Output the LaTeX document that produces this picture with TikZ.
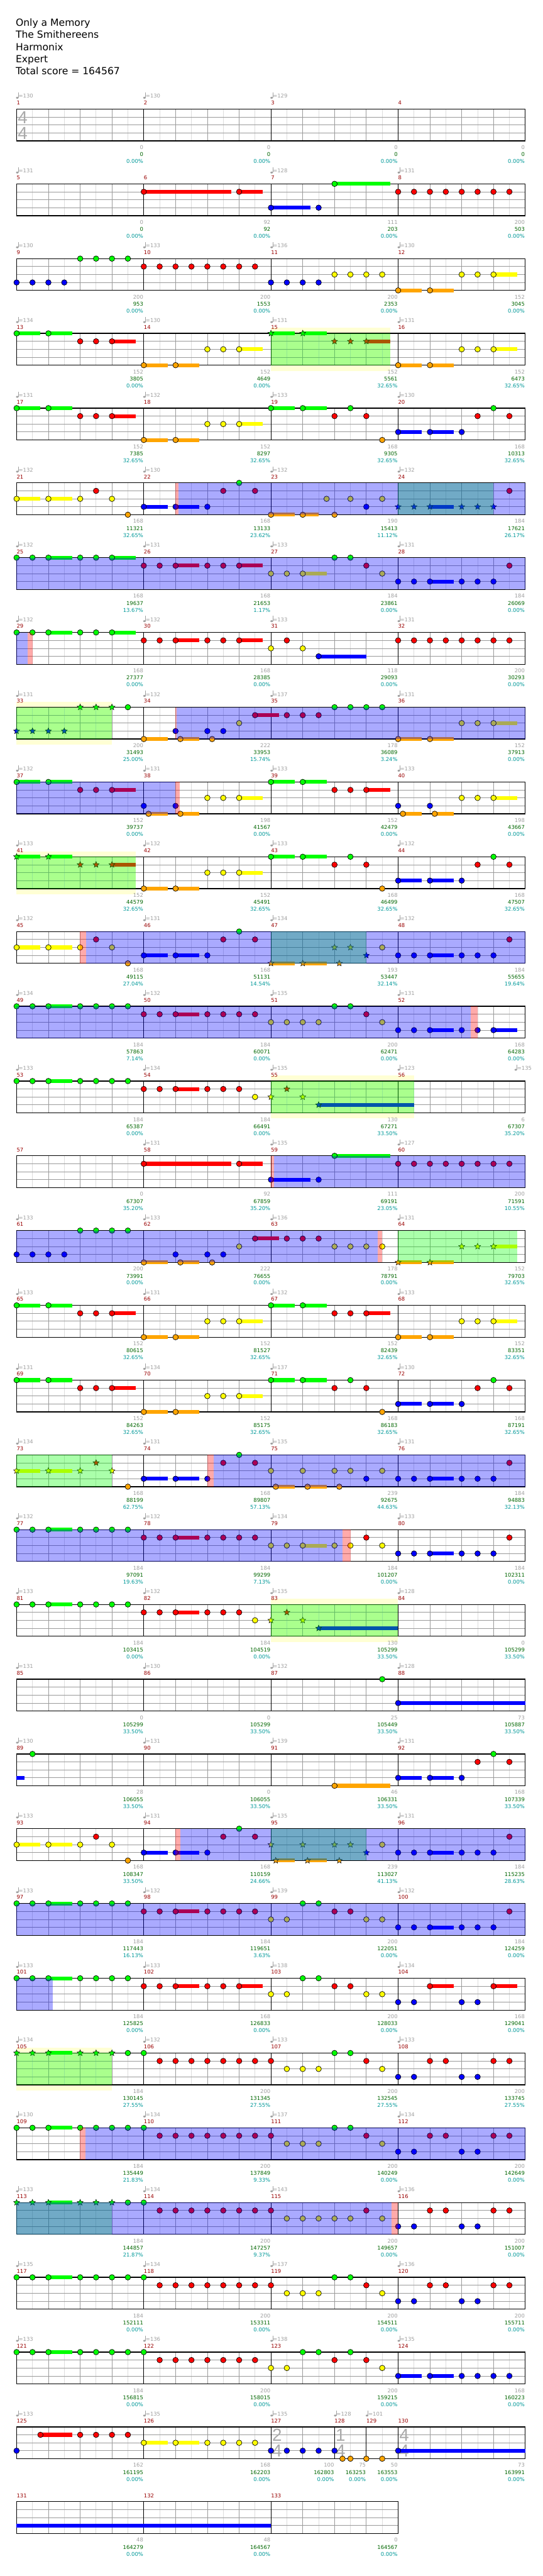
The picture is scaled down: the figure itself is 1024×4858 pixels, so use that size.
\documentclass[tikz,border=0pt]{standalone}
\usepackage{fontspec}
\setmainfont{DejaVu Sans}
\newfontfamily\tsfont{Liberation Sans}
\definecolor{cG}{HTML}{00FF00}
\definecolor{cR}{HTML}{FF0000}
\definecolor{cY}{HTML}{FFFF00}
\definecolor{cB}{HTML}{0000FF}
\definecolor{cO}{HTML}{FFA500}
\definecolor{lgray}{HTML}{DCDCDC}
\definecolor{mgray}{HTML}{9A9A9A}
\definecolor{tgray}{HTML}{A0A0A0}
\definecolor{tsgray}{HTML}{AAAAAA}
\definecolor{mnum}{HTML}{990000}
\definecolor{sgreen}{HTML}{006600}
\definecolor{steal}{HTML}{009999}
\definecolor{spyel}{HTML}{FFFFD4}
\newcounter{nn}
\newcommand\sfnt{\fontsize{10}{12}\selectfont}
\tikzset{lbl/.style={inner sep=0,font=\sfnt}}
\newcommand\Rw[1]{\pgfmathsetmacro\rowT{205.7+141*(#1-1)}}
\newcommand\grid[2]{%
  \pgfmathtruncatemacro\lastodd{#1-1}%
  \pgfmathtruncatemacro\lastev{#1-2}%
  \foreach \e in {1,3,...,\lastodd}{\draw[lgray,line width=1] ({31.3+30*\e},\rowT) -- ++(0,60);}%
  \foreach \e in {2,4,...,\lastev}{\draw[mgray,line width=1] ({31.3+30*\e},\rowT) -- ++(0,60);}%
  \foreach \lv in {15,30,45}{\draw[mgray,line width=1] (31.3,{\rowT+\lv}) -- ++({30*#1},0);}%
  \foreach \e in {#2}{\draw[black,line width=1] ({31.3+30*\e},\rowT) -- ++(0,60);}%
  \draw[black,line width=1.5] (31.3,\rowT) rectangle ({31.3+30*#1},{\rowT+60});}
\newcommand\gridd{\grid{32}{8,16,24}}
\newcommand\nt[3]{\foreach \e in {#3}{\filldraw[fill=#1,draw=black,line width=.8] ({31.3+30*\e},{\rowT+15*#2}) circle (5.2);}}
\newcommand\nG[1]{\nt{cG}{0}{#1}}
\newcommand\nR[1]{\nt{cR}{1}{#1}}
\newcommand\nY[1]{\nt{cY}{2}{#1}}
\newcommand\nB[1]{\nt{cB}{3}{#1}}
\newcommand\nO[1]{\nt{cO}{4}{#1}}
\newcommand\st[3]{\foreach \e in {#3}{\filldraw[fill=#1,draw=black,line width=.6] plot[variable=\kk,samples at={0,...,9}] ({31.3+30*\e+(6-3.3*mod(\kk,2))*cos(90+36*\kk)},{\rowT+15*#2-(6-3.3*mod(\kk,2))*sin(90+36*\kk)}) -- cycle;}}
\newcommand\tG[1]{\st{cG}{0}{#1}}
\newcommand\tR[1]{\st{cR}{1}{#1}}
\newcommand\tY[1]{\st{cY}{2}{#1}}
\newcommand\tB[1]{\st{cB}{3}{#1}}
\newcommand\tO[1]{\st{cO}{4}{#1}}
\newcommand\su[4]{\fill[#1] ({31.3+30*(#3)},{\rowT+15*#2-3.6}) rectangle ({31.3+30*(#4)},{\rowT+15*#2+3.6});}
\newcommand\sG[2]{\su{cG}{0}{#1}{#2}}
\newcommand\sR[2]{\su{cR}{1}{#1}{#2}}
\newcommand\sY[2]{\su{cY}{2}{#1}{#2}}
\newcommand\sB[2]{\su{cB}{3}{#1}{#2}}
\newcommand\sO[2]{\su{cO}{4}{#1}{#2}}
\newcommand\od[2]{\fill[cB,opacity=.333] ({31.3+30*(#1)},\rowT) rectangle ({31.3+30*(#2)},{\rowT+60});}
\newcommand\spg[2]{\fill[cG,opacity=.333] ({31.3+30*(#1)},\rowT) rectangle ({31.3+30*(#2)},{\rowT+60});}
\newcommand\pk[2]{\fill[cR,opacity=.333] ({31.3+30*(#1)},\rowT) rectangle ({31.3+30*(#2)},{\rowT+60});}
\newcommand\spy[2]{\fill[spyel] ({31.3+30*(#1)},{\rowT-10.4}) rectangle ({31.3+30*(#2)},{\rowT+70.6});}
\newcommand\mn[2]{\stepcounter{nn}\node[lbl,name=n\arabic{nn},anchor=base west,text=mnum] at ({31.3+30*(#1)},{\rowT-8}) {#2};}
\newcommand\tp[2]{\fill[tgray] ({31.3+30*(#1)+1.3},{\rowT-21.3}) ellipse (2.4 and 1.8);
  \draw[tgray,line width=.7] ({31.3+30*(#1)+3.4},{\rowT-21.5}) -- ++(0,-9.5);
  \stepcounter{nn}\node[lbl,name=n\arabic{nn},anchor=base west,text=tgray] at ({31.3+30*(#1)+3.6},{\rowT-20.7}) {=#2};}
\newcommand\scr[4]{\stepcounter{nn}\node[lbl,name=n\arabic{nn},anchor=base east,text=tgray] at ({31.3+30*(#1)-0.8},{\rowT+76}) {#2};
  \stepcounter{nn}\node[lbl,name=n\arabic{nn},anchor=base east,text=sgreen] at ({31.3+30*(#1)-0.8},{\rowT+89.3}) {#3};
  \stepcounter{nn}\node[lbl,name=n\arabic{nn},anchor=base east,text=steal] at ({31.3+30*(#1)-0.8},{\rowT+102.3}) {#4\%};}
\newcommand\scrs[1]{\foreach \sca/\scb/\scc [count=\sci] in {#1}{\scr{8*\sci}{\sca}{\scb}{\scc}}}
\newcommand\tps[1]{\foreach \ta [count=\ti] in {#1}{\ifnum\ta>0 \tp{8*(\ti-1)}{\ta}\fi}}
\newcommand\mns[2]{\foreach \mi in {1,...,#2}{\pgfmathtruncatemacro\mm{#1+\mi-1}\mn{8*(\mi-1)}{\mm}}}
\newcommand\ts[3]{\stepcounter{nn}\node[inner sep=0,name=n\arabic{nn},text=tsgray,font=\tsfont\fontsize{33}{33}\selectfont] at ({31.3+30*(#1)+11.5},{\rowT+15.5}) {#2};
  \stepcounter{nn}\node[inner sep=0,name=n\arabic{nn},text=tsgray,font=\tsfont\fontsize{33}{33}\selectfont] at ({31.3+30*(#1)+11.5},{\rowT+45.5}) {#3};}
\newcommand\PA{\sG{0}{1.5}\sG{2}{3.5}\sR{6}{7.5}\sO{8}{9.5}\sO{10}{11.5}\sY{14}{15.5}\nG{0,2}\nR{4,5,6}\nO{8,10}\nY{12,13,14}}
\newcommand\PB{\sG{16}{17.5}\sG{18}{19.5}\sR{22}{23.5}\sO{24}{25.5}\sO{26}{27.5}\sY{30}{31.5}\nG{16,18}\nR{20,21,22}\nO{24,26}\nY{28,29,30}}
\newcommand\PQ{\sG{16}{17.5}\sG{18}{19.5}\sB{24}{25.5}\sB{26}{27.5}\nG{16,18,21,30}\nR{20,22,29,31}\nO{23}\nB{24,26,28}}
\begin{document}
\begin{tikzpicture}[x=1pt,y=-1pt]
\useasboundingbox (0,0) rectangle (1024,4858);
\fill[white] (0,0) rectangle (1024,4858);
\begin{scope}[every node/.style={anchor=base west,inner sep=0,font=\fontsize{18.5}{22}\selectfont}]
\node[name=title] at (29.5,49) {Only a Memory};
\node[name=artist] at (29.5,72) {The Smithereens};
\node[name=author] at (29.5,95) {Harmonix};
\node[name=level] at (29.5,118) {Expert};
\node[name=total] at (29.5,141) {Total score = 164567};
\end{scope}
% Row 1
\Rw{1}\gridd\ts{0}{4}{4}\mns{1}{4}\tps{130,130,129,0}\scrs{0/0/0.00,0/0/0.00,0/0/0.00,0/0/0.00}
% Row 2
\Rw{2}\gridd\mns{5}{4}\tps{131,0,128,131}\scrs{0/0/0.00,92/92/0.00,111/203/0.00,200/503/0.00}
\sG{20}{23.5}\sR{8}{13.5}\sR{14}{15.5}\sB{16}{18.5}\nG{20}\nR{8,14,24,25,26,27,28,29,30,31}\nB{16,19}
% Row 3
\Rw{3}\gridd\mns{9}{4}\tps{130,133,136,130}\scrs{200/953/0.00,200/1553/0.00,200/2353/0.00,152/3045/0.00}
\sY{30}{31.5}\sO{24}{25.5}\sO{26}{27.5}\nG{4,5,6,7}\nR{8,9,10,11,12,13,14,15}\nB{0,1,2,3,16,17,18,19}\nY{20,21,22,23,28,29,30}\nO{24,26}
% Row 4
\Rw{4}\spy{16}{23.5}\gridd\mns{13}{4}\tps{134,130,131,131}\scrs{152/3805/0.00,152/4649/0.00,152/5561/32.65,152/6473/32.65}
\PA\sG{16}{17.5}\sG{18}{19.5}\sR{22}{23.5}\sO{24}{25.5}\sO{26}{27.5}\sY{30}{31.5}\tG{16,18}\tR{20,21,22}\nO{24,26}\nY{28,29,30}\spg{16}{23.5}
% Row 5
\Rw{5}\gridd\mns{17}{4}\tps{131,132,133,130}\scrs{152/7385/32.65,152/8297/32.65,168/9305/32.65,168/10313/32.65}\PA\PQ
% Row 6
\Rw{6}\gridd\mns{21}{4}\tps{132,130,132,132}\scrs{168/11321/32.65,168/13133/23.62,190/15413/11.12,184/17621/26.17}
\sY{0}{1.5}\sY{2}{3.5}\sB{8}{9.5}\sB{10}{11.5}\sO{16}{17.5}\sO{18}{19}\sB{26}{27.5}
\nY{0,2,4,6,19.5,21,23}\nR{5,13,15,31}\nO{7,16,18,20}\nB{8,10,12,22}\nG{14}\tB{24,25,26,28,29,30}
\spg{24}{30}\od{10.17}{32}\pk{10}{10.17}
% Row 7
\Rw{7}\gridd\mns{25}{4}\tps{132,131,133,131}\scrs{168/19637/13.67,168/21653/1.17,184/23861/0.00,184/26069/0.00}
\sG{2}{3.5}\sG{6}{7.5}\sR{10}{11.5}\sR{14}{15.5}\sY{18}{19.5}\sB{26}{27.5}
\nG{0,1,2,4,5,6,20,21}\nR{8,9,10,12,13,14,22,31}\nY{16,17,18,23}\nB{24,25,26,28,29,30}\od{0}{32}
% Row 8
\Rw{8}\gridd\mns{29}{4}\tps{132,132,133,131}\scrs{168/27377/0.00,168/28385/0.00,118/29093/0.00,200/30293/0.00}
\sG{2}{3.5}\sG{6}{7.5}\sR{10}{11.5}\sR{14}{15.5}\sB{19}{22}
\nG{0,1,2,4,5,6}\nR{8,9,10,12,13,14,17,24,25,26,27,28,29,30,31}\nY{16,18}\nB{19}\od{0}{0.7}\pk{0.7}{1}
% Row 9
\Rw{9}\spy{0}{6}\gridd\mns{33}{4}\tps{131,132,137,131}\scrs{200/31493/25.00,222/33953/15.74,178/36089/3.24,152/37913/0.00}
\sO{8}{9.5}\sO{10.3}{11.5}\sR{15}{16.5}\sO{24}{25.5}\sO{26}{27.5}\sY{30}{31.5}
\nG{7,20,21,22,23}\nO{8,10.3,12.3,24,26}\nB{10,12,13}\nY{14,28,29,30}\nR{15,17,18,19}\tB{0,1,2,3}\tG{4,5,6}
\spg{0}{6}\od{10.07}{32}\pk{10}{10.07}
% Row 10
\Rw{10}\gridd\mns{37}{4}\tps{132,131,133,133}\scrs{152/39737/0.00,198/41567/0.00,152/42479/0.00,198/43667/0.00}
\sG{0}{1.5}\sG{2}{3.5}\sR{6}{7.5}\sO{8.3}{9.5}\sO{10.3}{11.5}\sY{14}{15.5}\sG{16}{17.5}\sG{18}{19.5}\sR{22}{23.5}\sO{24.3}{25.5}\sO{26.3}{27.5}\sY{30}{31.5}
\nG{0,2,16,18}\nR{4,5,6,20,21,22}\nB{8,10,24,26}\nO{8.3,10.3,24.3,26.3}\nY{12,13,14,28,29,30}
\od{0}{10}\pk{10}{10.27}
% Row 11
\Rw{11}\spy{0}{7.5}\gridd\mns{41}{4}\tps{133,132,133,132}\scrs{152/44579/32.65,152/45491/32.65,168/46499/32.65,168/47507/32.65}
\sG{0}{1.5}\sG{2}{3.5}\sR{6}{7.5}\sO{8}{9.5}\sO{10}{11.5}\sY{14}{15.5}\tG{0,2}\tR{4,5,6}\nO{8,10}\nY{12,13,14}\PQ\spg{0}{7.5}
% Row 12
\Rw{12}\gridd\mns{45}{4}\tps{132,131,134,132}\scrs{168/49115/27.04,168/51131/14.54,193/53447/32.14,184/55655/19.64}
\sY{0}{1.5}\sY{2}{3.5}\sB{8}{9.5}\sB{10}{11.5}\sO{16}{17.5}\sO{18}{19.5}\sB{26}{27.5}
\nY{0,2,4,6,23}\nR{5,13,15,31}\nO{7}\nB{8,10,12,24,25,26,28,29,30}\nG{14}\tO{16,18,20.3}\tY{20,21}\tB{22}
\spg{16}{22}\od{4.37}{32}\pk{3.98}{4.37}
% Row 13
\Rw{13}\gridd\mns{49}{4}\tps{134,132,135,131}\scrs{184/57863/7.14,184/60071/0.00,200/62471/0.00,168/64283/0.00}
\sG{2}{3.5}\sR{10}{11.5}\sB{26}{27.5}\sB{30}{31.5}
\nG{0,1,2,4,5,6,7,20,21}\nR{8,9,10,12,13,14,15,22}\nY{16,17,18,19,23}\nB{24,25,26,28,29,30}
\od{0}{28.57}\pk{28.57}{29}
% Row 14
\Rw{14}\spy{16}{25}\gridd\mns{53}{4}\tps{133,134,135,123}\tp{31.36}{135}\scrs{184/65387/0.00,184/66491/0.00,130/67271/33.50,6/67307/35.20}
\sG{2}{3.5}\sR{10}{11.5}\sB{19}{25}\nG{0,1,2,4,5,6,7}\nR{8,9,10,12,13,14}\nY{15}\tY{16,18}\tR{17}\tB{19}\spg{16}{25}
% Row 15
\Rw{15}\gridd\mns{57}{4}\tps{0,131,135,127}\scrs{0/67307/35.20,92/67859/35.20,111/69191/23.05,200/71591/10.55}
\sR{8}{13.5}\sR{14}{15.5}\sB{16}{18.5}\sG{20}{23.5}\nR{8,14,24,25,26,27,28,29,30,31}\nB{16,19}\nG{20}
\od{16.2}{32}\pk{16}{16.2}
% Row 16
\Rw{16}\gridd\mns{61}{4}\tps{133,133,136,131}\scrs{200/73991/0.00,222/76655/0.00,178/78791/0.00,152/79703/32.65}
\sO{8}{9.5}\sO{10.3}{11.5}\sR{15}{16.5}\sO{24}{25.5}\sO{26}{27.5}\sY{30}{31.5}
\nB{0,1,2,3,10,12,13}\nG{4,5,6,7}\nO{8,10.3,12.3}\nY{14,20,21,22,23}\nR{15,17,18,19}\tO{24,26}\tY{28,29,30}
\spg{24}{31.5}\od{0}{22.72}\pk{22.72}{23}
% Row 17
\Rw{17}\gridd\mns{65}{4}\tps{133,131,132,133}\scrs{152/80615/32.65,152/81527/32.65,152/82439/32.65,152/83351/32.65}\PA\PB
% Row 18
\Rw{18}\gridd\mns{69}{4}\tps{131,134,137,130}\scrs{152/84263/32.65,152/85175/32.65,168/86183/32.65,168/87191/32.65}\PA\PQ
% Row 19
\Rw{19}\gridd\mns{73}{4}\tps{134,131,135,131}\scrs{168/88199/62.75,168/89807/57.13,239/92675/44.63,184/94883/32.13}
\sY{0}{1.5}\sY{2}{3.5}\sB{8}{9.5}\sB{10}{11.5}\sO{16.3}{17.5}\sO{18.3}{19.5}\sB{26}{27.5}
\tY{0,2,4,6}\tR{5}\nO{7,16.3,18.3,20.3}\nB{8,10,12,22,24,25,26,28,29,30}\nR{13,15,31}\nG{14}\nY{16,18,20,21,23}
\spg{0}{6}\od{12.4}{32}\pk{12}{12.4}
% Row 20
\Rw{20}\gridd\mns{77}{4}\tps{132,132,134,133}\scrs{184/97091/19.63,184/99299/7.13,184/101207/0.00,184/102311/0.00}
\sG{2}{3.5}\sR{10}{11.5}\sY{18}{19.5}\sB{26}{27.5}
\nG{0,1,2,4,5,6,7}\nR{8,9,10,12,13,14,15,22,31}\nY{16,17,18,20,21,23}\nB{24,25,26,28,29,30}
\od{0}{20.5}\pk{20.5}{21}
% Row 21
\Rw{21}\spy{16}{24}\gridd\mns{81}{4}\tps{133,132,135,128}\scrs{184/103415/0.00,184/104519/0.00,130/105299/33.50,0/105299/33.50}
\sG{2}{3.5}\sR{10}{11.5}\sB{19}{24}\nG{0,1,2,4,5,6,7}\nR{8,9,10,12,13,14}\nY{15}\tY{16,18}\tR{17}\tB{19}\spg{16}{24}
% Row 22
\Rw{22}\gridd\mns{85}{4}\tps{131,130,132,128}\scrs{0/105299/33.50,0/105299/33.50,25/105449/33.50,73/105887/33.50}
\sB{24}{32}\nG{23}\nB{24}
% Row 23
\Rw{23}\gridd\mns{89}{4}\tps{130,131,139,131}\scrs{28/106055/33.50,0/106055/33.50,46/106331/33.50,168/107339/33.50}
\sB{0}{0.5}\sO{20}{23.5}\sB{24}{25.5}\sB{26}{27.5}\nG{1,30}\nO{20}\nB{24,26,28}\nR{29,31}
% Row 24
\Rw{24}\gridd\mns{93}{4}\tps{133,131,135,131}\scrs{168/108347/33.50,168/110159/24.66,239/113027/41.13,184/115235/28.63}
\sY{0}{1.5}\sY{2}{3.5}\sB{8}{9.5}\sB{10}{11.5}\sO{16.3}{17.5}\sO{18.3}{19.5}\sB{26}{27.5}
\nY{0,2,4,6,23}\nR{5,13,15,31}\nO{7}\nB{8,10,12,24,25,26,28,29,30}\nG{14}\tY{16,18,20,21}\tO{16.3,18.3,20.3}\tB{22}
\spg{16}{22}\od{10.3}{32}\pk{10}{10.3}
% Row 25
\Rw{25}\gridd\mns{97}{4}\tps{133,132,139,132}\scrs{184/117443/16.13,184/119651/3.63,200/122051/0.00,184/124259/0.00}
\sG{2}{3.5}\sR{10}{11.5}\sB{26}{27.5}
\nG{0,1,2,4,5,6,7,18,19}\nR{8,9,10,12,13,14,15,20,21,31}\nY{16,17,22,23}\nB{24,25,26,28,29,30}\od{0}{32}
% Row 26
\Rw{26}\gridd\mns{101}{4}\tps{133,133,138,134}\scrs{184/125825/0.00,168/126833/0.00,200/128033/0.00,168/129041/0.00}
\sG{2}{3.5}\sR{10}{11.5}\sR{14}{15.5}\sR{26}{27.5}\sR{30}{31.5}
\nG{0,1,2,4,5,6,7,18,19}\nR{8,9,10,12,13,14,20,21,26,30}\nY{16,17,22,23}\nB{24,25,28,29}\od{0}{2.27}
% Row 27
\Rw{27}\spy{0}{6}\gridd\mns{105}{4}\tps{134,132,133,133}\scrs{184/130145/27.55,200/131345/27.55,200/132545/27.55,200/133745/27.55}
\sG{2}{3.5}\tG{0,1,2,4,5,6}\nG{7,8,20,21}\nR{9,10,11,12,13,14,15,16,22,26,27,30,31}\nY{17,18,19,23}\nB{24,25,28,29}\spg{0}{6}
% Row 28
\Rw{28}\gridd\mns{109}{4}\tps{130,134,137,134}\scrs{184/135449/21.83,200/137849/9.33,200/140249/0.00,200/142649/0.00}
\sG{2}{3.5}\nG{0,1,2,4,5,6,7,8,20,21}\nR{9,10,11,12,13,14,15,16,22,26,27,30,31}\nY{17,18,19,23}\nB{24,25,28,29}
\od{4.35}{32}\pk{3.98}{4.35}
% Row 29
\Rw{29}\gridd\mns{113}{4}\tps{133,134,143,136}\scrs{184/144857/21.87,200/147257/9.37,200/149657/0.00,200/151007/0.00}
\sG{2}{3.5}\tG{0,1,2,4,5,6}\nG{7,8}\nR{9,10,11,12,13,14,15,16,22,26,27,30,31}\nY{17,18,19,20,21,23}\nB{24,25,28,29}
\spg{0}{6}\od{0}{23.6}\pk{23.6}{24}
% Row 30
\Rw{30}\gridd\mns{117}{4}\tps{135,134,137,136}\scrs{184/152111/0.00,200/153311/0.00,200/154511/0.00,200/155711/0.00}
\sG{2}{3.5}\nG{0,1,2,4,5,6,7,8,20,21}\nR{9,10,11,12,13,14,15,16,22,26,27,30,31}\nY{17,18,19,23}\nB{24,25,28,29}
% Row 31
\Rw{31}\gridd\mns{121}{4}\tps{133,136,138,135}\scrs{184/156815/0.00,200/158015/0.00,200/159215/0.00,168/160223/0.00}
\sG{2}{3.5}\sB{24}{25.5}\sB{26}{27.5}\nG{0,1,2,4,5,6,7,8,18,19,21}\nR{9,10,11,12,13,14,15,20,22}\nY{16,17,23}\nB{24,26,28,29,30,31}
% Row 32
\Rw{32}\grid{32}{8,16,20,22,24}
\mn{0}{125}\mn{8}{126}\mn{16}{127}\mn{20}{128}\mn{22}{129}\mn{24}{130}
\tp{0}{133}\tp{8}{135}\tp{16}{135}\tp{20}{128}\tp{22}{101}
\scr{8}{162}{161195}{0.00}\scr{16}{168}{162203}{0.00}\scr{20}{100}{162803}{0.00}\scr{22}{75}{163253}{0.00}\scr{24}{50}{163553}{0.00}\scr{32}{73}{163991}{0.00}
\ts{16}{2}{4}\ts{20}{1}{4}\ts{24}{4}{4}
\sR{1.5}{3.5}\sY{8}{9.5}\sY{10}{11.5}\sB{24}{32}
\nB{0,16,17,18,19,20,24}\nR{1.5,4,5,6,7}\nY{8,10,12,13,14,15}\nO{20.5,21,22,23}
% Row 33
\Rw{33}\grid{24}{8,16}\mns{131}{3}
\scr{8}{48}{164279}{0.00}\scr{16}{48}{164567}{0.00}\scr{24}{0}{164567}{0.00}
\sB{0}{16}
\end{tikzpicture}
\end{document}
